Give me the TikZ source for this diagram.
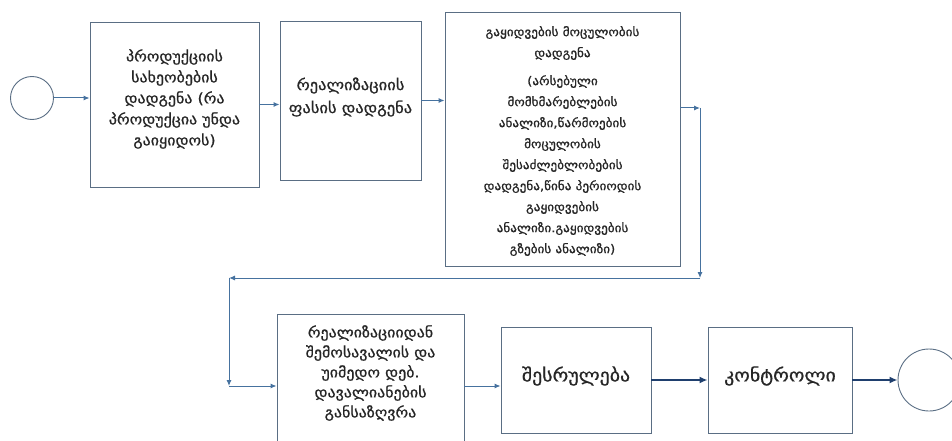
\documentclass[tikz,border=0pt]{standalone}
\usepackage{fontspec}
\setmainfont[FakeStretch=1.1,FakeBold=0.8]{DejaVu Sans}
\usetikzlibrary{arrows.meta}
\definecolor{boxline}{HTML}{5A6E84}
\definecolor{arrup}{HTML}{46729F}
\definecolor{arrdn}{HTML}{1F3F6E}
\tikzset{
  box/.style={draw=boxline, line width=0.9pt, fill=white, rectangle, inner sep=0pt},
  txt/.style={align=center, inner sep=0pt, text=black!85},
  arr/.style={draw=arrup, line width=1pt, -{Latex[length=6pt,width=5pt]}},
  arrb/.style={draw=arrdn, line width=2pt, -{Latex[length=8pt,width=7pt]}},
  circ/.style={draw=boxline, line width=0.9pt, circle, inner sep=0pt}
}
\begin{document}
\begin{tikzpicture}[x=1pt,y=-1pt]
\useasboundingbox (0,0) rectangle (952,441);
\node[circ, minimum size=43pt] (s) at (32,98) {};
\node[box, minimum width=169pt, minimum height=165pt] (b1) at (174.5,104.5) {};
\node[box, minimum width=141pt, minimum height=159pt] (b2) at (350.5,100.5) {};
\node[box, minimum width=235pt, minimum height=254pt] (b3) at (562.5,139) {};
\node[box, minimum width=187pt, minimum height=130pt] (b4) at (370.5,379) {};
\node[box, minimum width=150pt, minimum height=106pt] (b5) at (576,380) {};
\node[box, minimum width=144pt, minimum height=106pt] (b6) at (780,380) {};
\node[circ, minimum size=62pt] (e) at (929,380) {};

\node[txt, font=\fontsize{14.5}{21}\selectfont] (t1) at (174.5,99) {პროდუქციის\\სახეობების\\დადგენა (რა\\პროდუქცია უნდა\\გაიყიდოს)};
\node[txt, font=\fontsize{15}{23}\selectfont] (t2) at (350.5,97) {რეალიზაციის\\ფასის დადგენა};
\node[txt, font=\fontsize{12}{21}\selectfont] (t3) at (562.5,141) {გაყიდვების მოცულობის\\დადგენა\\[7pt](არსებული\\მომხმარებლების\\ანალიზი,წარმოების\\მოცულობის\\შესაძლებლობების\\დადგენა,წინა პერიოდის\\გაყიდვების\\ანალიზი.გაყიდვების\\გზების ანალიზი)};
\node[txt, font=\fontsize{14.5}{20}\selectfont] (t4) at (370.5,373) {რეალიზაციიდან\\შემოსავალის და\\უიმედო დებ.\\დავალიანების\\განსაზღვრა};
\node[txt, font=\fontsize{18}{21}\selectfont] (t5) at (576,376) {შესრულება};
\node[txt, font=\fontsize{18}{21}\selectfont] (t6) at (780,376) {კონტროლი};

\coordinate (c1) at (700,108);
\coordinate (c2) at (700,278);
\coordinate (c3) at (229,278);
\coordinate (c4) at (229,386);

\draw[arr] (s.east) -- (s.east -| b1.west);
\draw[arr] (b1.east) -- (b1.east -| b2.west);
\draw[arr] (b2.east) -- (b2.east -| b3.west);
\draw[arr] (b3.east |- c1) -- (c1);
\draw[arr] (c1) -- (c2);
\draw[arr] (c2) -- (c3);
\draw[arr] (c3) -- (c4);
\draw[arr] (c4) -- (c4 -| b4.west);
\draw[arr] (b4.east |- c4) -- (c4 -| b5.west);
\draw[arrb] (b5.east |- e.west) -- (b6.west |- e.west);
\draw[arrb] (b6.east |- e.west) -- (e.west);
\end{tikzpicture}
\end{document}
